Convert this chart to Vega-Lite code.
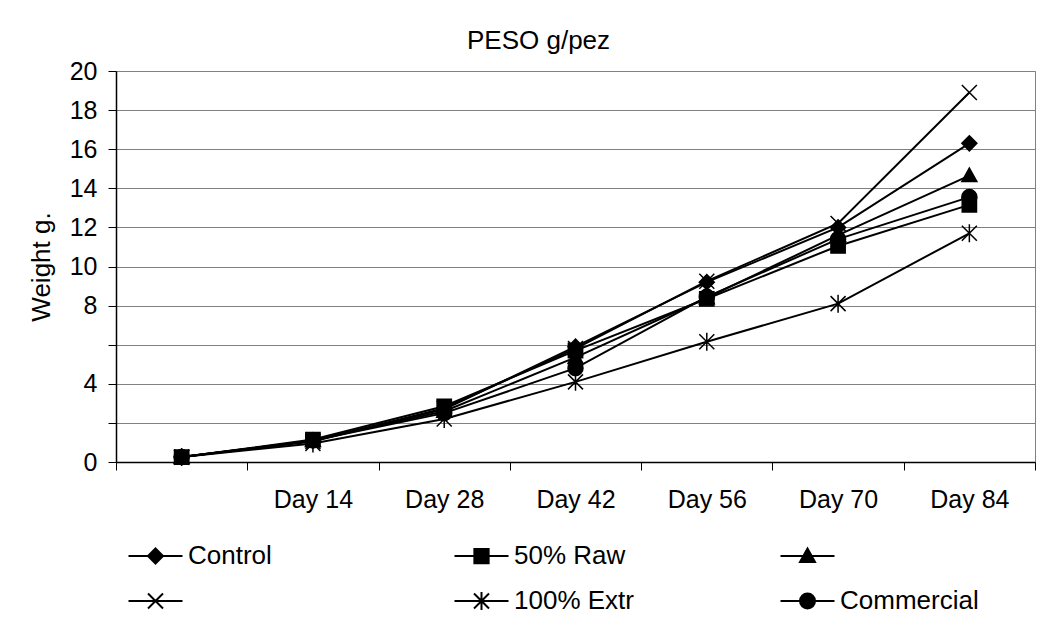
{
  "$schema": "https://vega.github.io/schema/vega-lite/v6.json",
  "autosize": {"type": "none"},
  "padding": {"left": 116, "top": 71, "right": 23, "bottom": 165},
  "width": 919,
  "height": 391,
  "background": "white",
  "title": {"text": "PESO g/pez", "fontSize": 26, "font": "Liberation Sans", "fontWeight": "normal", "color": "black", "anchor": "middle", "frame": "group", "baseline": "bottom", "offset": 16, "dx": -37, "dy": 37},
  "config": {
    "font": "Liberation Sans",
    "view": {"stroke": "#808080", "strokeWidth": 1},
    "axis": {"labelFont": "Liberation Sans", "titleFont": "Liberation Sans", "labelColor": "black", "titleColor": "black", "domainColor": "black", "tickColor": "black", "gridColor": "#808080", "gridOpacity": 1, "labelFontSize": 25, "titleFontSize": 26, "titleFontWeight": "normal", "tickSize": 8}
  },
  "data": {"values": [
    {"day": "Day 0", "series": "Control", "weight": 0.25},
    {"day": "Day 14", "series": "Control", "weight": 1.1},
    {"day": "Day 28", "series": "Control", "weight": 2.7},
    {"day": "Day 42", "series": "Control", "weight": 5.9},
    {"day": "Day 56", "series": "Control", "weight": 9.2},
    {"day": "Day 70", "series": "Control", "weight": 12.0},
    {"day": "Day 84", "series": "Control", "weight": 16.3},
    {"day": "Day 0", "series": "50% Raw", "weight": 0.25},
    {"day": "Day 14", "series": "50% Raw", "weight": 1.15},
    {"day": "Day 28", "series": "50% Raw", "weight": 2.85},
    {"day": "Day 42", "series": "50% Raw", "weight": 5.7},
    {"day": "Day 56", "series": "50% Raw", "weight": 8.35},
    {"day": "Day 70", "series": "50% Raw", "weight": 11.05},
    {"day": "Day 84", "series": "50% Raw", "weight": 13.15},
    {"day": "Day 0", "series": " ", "weight": 0.25},
    {"day": "Day 14", "series": " ", "weight": 1.1},
    {"day": "Day 28", "series": " ", "weight": 2.6},
    {"day": "Day 42", "series": " ", "weight": 5.35},
    {"day": "Day 56", "series": " ", "weight": 8.4},
    {"day": "Day 70", "series": " ", "weight": 11.6},
    {"day": "Day 84", "series": " ", "weight": 14.65},
    {"day": "Day 0", "series": "  ", "weight": 0.25},
    {"day": "Day 14", "series": "  ", "weight": 1.05},
    {"day": "Day 28", "series": "  ", "weight": 2.75},
    {"day": "Day 42", "series": "  ", "weight": 5.8},
    {"day": "Day 56", "series": "  ", "weight": 9.25},
    {"day": "Day 70", "series": "  ", "weight": 12.2},
    {"day": "Day 84", "series": "  ", "weight": 18.9},
    {"day": "Day 0", "series": "100% Extr", "weight": 0.25},
    {"day": "Day 14", "series": "100% Extr", "weight": 0.95},
    {"day": "Day 28", "series": "100% Extr", "weight": 2.2},
    {"day": "Day 42", "series": "100% Extr", "weight": 4.1},
    {"day": "Day 56", "series": "100% Extr", "weight": 6.15},
    {"day": "Day 70", "series": "100% Extr", "weight": 8.1},
    {"day": "Day 84", "series": "100% Extr", "weight": 11.7},
    {"day": "Day 0", "series": "Commercial", "weight": 0.25},
    {"day": "Day 14", "series": "Commercial", "weight": 1.1},
    {"day": "Day 28", "series": "Commercial", "weight": 2.5},
    {"day": "Day 42", "series": "Commercial", "weight": 4.8},
    {"day": "Day 56", "series": "Commercial", "weight": 8.45},
    {"day": "Day 70", "series": "Commercial", "weight": 11.4},
    {"day": "Day 84", "series": "Commercial", "weight": 13.55}
  ]},
  "encoding": {
    "x": {"field": "day", "type": "ordinal", "sort": ["Day 0", "Day 14", "Day 28", "Day 42", "Day 56", "Day 70", "Day 84"], "bandPosition": 0.5,
      "scale": {"type": "band", "paddingInner": 0, "paddingOuter": 0},
      "axis": {"title": null, "labelAngle": 0, "tickBand": "extent", "grid": false, "labelPadding": 17, "labelBaseline": "top", "labelExpr": "datum.value === 'Day 0' ? '' : datum.label", "domainWidth": 1.5}},
    "y": {"field": "weight", "type": "quantitative", "scale": {"domain": [0, 20], "nice": false, "zero": true},
      "axis": {"title": "Weight g.", "values": [0, 2, 4, 6, 8, 10, 12, 14, 16, 18, 20], "labelExpr": "datum.value == 2 || datum.value == 6 ? '' : datum.label", "grid": true, "labelPadding": 11, "titlePadding": 15, "domainWidth": 1.5}}
  },
  "resolve": {"scale": {"shape": "independent", "stroke": "independent"}, "legend": {"shape": "independent", "stroke": "independent"}},
  "layer": [
    {
      "mark": {"type": "line", "color": "black", "strokeWidth": 2},
      "encoding": {"detail": {"field": "series"}}
    },
    {
      "mark": {"type": "point", "filled": true, "fill": "black", "stroke": "black", "strokeWidth": 1.5, "size": 225, "opacity": 1},
      "encoding": {
        "shape": {"field": "series", "type": "nominal", "legend": null,
          "scale": {"domain": ["Control", "50% Raw", " ", "  ", "100% Extr", "Commercial"],
            "range": ["M0,-1L1,0L0,1L-1,0Z", "M-0.95,-0.95L0.95,-0.95L0.95,0.95L-0.95,0.95Z", "M0,-1L1,0.8L-1,0.8Z", "M-1,-1L1,1M-1,1L1,-1", "M-1,-1L1,1M-1,1L1,-1M0,-1.2L0,1.2", "M-1,0A1,1,0,1,1,1,0A1,1,0,1,1,-1,0Z"]}}
      }
    },
    {
      "transform": [{"filter": "datum.weight < 0"}],
      "mark": {"type": "point", "filled": true, "fill": "black", "strokeWidth": 2, "size": 225, "opacity": 1},
      "encoding": {
        "shape": {"field": "series", "type": "nominal",
          "scale": {"domain": ["Control", "50% Raw", " ", "  ", "100% Extr", "Commercial"],
            "range": ["M-3.6,0L3.6,0M0,-1L1,0L0,1L-1,0Z", "M-3.6,0L3.6,0M-0.95,-0.95L0.95,-0.95L0.95,0.95L-0.95,0.95Z", "M-3.6,0L3.6,0M0,-1L1,0.8L-1,0.8Z", "M-3.6,0L3.6,0M-1,-1L1,1M-1,1L1,-1", "M-3.6,0L3.6,0M-1,-1L1,1M-1,1L1,-1M0,-1.2L0,1.2", "M-3.6,0L3.6,0M-1,0A1,1,0,1,1,1,0A1,1,0,1,1,-1,0Z"]},
          "legend": {"title": null, "orient": "none", "legendX": 26.5, "legendY": 472, "columns": 3, "direction": "horizontal", "gridAlign": "all", "columnPadding": 123, "rowPadding": 19, "padding": 0, "symbolSize": 225, "symbolFillColor": "black", "symbolStrokeColor": "black", "symbolStrokeWidth": 2, "symbolOpacity": 1, "labelFont": "Liberation Sans", "labelFontSize": 26, "labelColor": "black", "labelOffset": 19.5, "labelLimit": 400}},
        "stroke": {"field": "series", "type": "nominal",
          "scale": {"domain": ["Control", "50% Raw", " ", "  ", "100% Extr", "Commercial"], "range": ["black", "black", "black", "black", "black", "black"]}}
      }
    }
  ]
}
